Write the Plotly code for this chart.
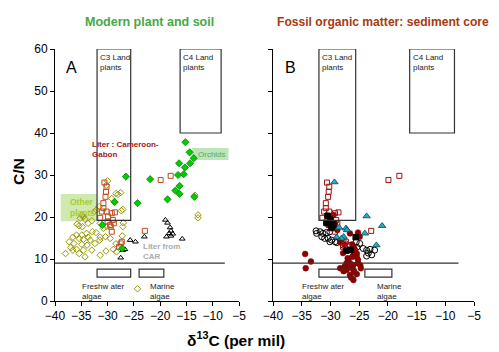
import plotly.graph_objects as go

# ---------------- Panel A data ----------------
olive_x = [-30.0, -30.2, -28.0, -28.4, -27.5, -29.2, -28.6, -32.1, -32.5, -31.6, -27.1, -27.4,
           -34.9, -34.6, -35.2, -34.3, -35.8, -35.4, -34.8, -33.7, -33.0, -31.4, -30.8, -30.2,
           -27.1, -27.0, -32.9, -32.2, -34.0, -34.9, -35.9, -36.6, -35.4, -34.6, -33.7, -33.3,
           -31.4, -30.4, -29.5, -37.3, -36.4, -34.9, -33.9, -32.4, -37.0, -35.9, -36.6, -34.6,
           -35.4, -38.0, -34.3, -31.4, -30.3, -28.3, -28.4, -28.9, -27.2, -31.5, -33.0, -24.3,
           -13.4, -12.8, -12.8]
olive_y = [28.6, 27.6, 25.4, 25.6, 25.8, 24.4, 23.5, 21.7, 21.3, 22.5, 21.8, 21.5,
           20.5, 20.1, 19.7, 19.5, 18.3, 17.9, 17.7, 18.5, 19.1, 18.5, 17.3, 17.7,
           17.7, 18.6, 16.5, 16.3, 16.1, 15.7, 15.7, 15.2, 14.9, 14.7, 15.2, 14.5,
           15.2, 15.3, 14.9, 14.1, 13.7, 13.5, 13.3, 13.7, 12.7, 12.3, 12.1, 12.1,
           11.3, 11.3, 10.5, 10.9, 11.9, 11.7, 13.6, 12.3, 15.5, 14.5, 12.1, 2.9,
           25.2, 20.5, 19.8]

green_x = [-15.2, -14.4, -13.6, -14.3, -16.4, -15.3, -16.6, -15.5, -16.3, -17.1, -16.3, -18.6,
           -21.9, -24.3, -26.5, -28.7, -31.0, -13.5, -27.2]
green_y = [37.8, 35.4, 34.0, 32.8, 32.8, 31.8, 30.0, 30.2, 27.4, 26.3, 25.5, 24.2,
           29.0, 23.3, 29.6, 23.6, 18.1, 24.8, 12.5]

liter_cg_x = [-19.9, -18.0, -22.9, -30.6, -30.2, -30.3, -30.4, -30.8, -30.8, -31.1, -31.4,
              -29.2, -28.6, -30.0, -29.4, -29.2, -27.5, -27.8, -30.2, -29.9, -29.0, -29.5,
              -28.8, -27.3]
liter_cg_y = [28.8, 29.8, 16.7, 28.2, 27.2, 26.0, 24.8, 23.3, 22.1, 21.3, 19.8,
              20.9, 21.1, 18.9, 17.7, 16.5, 13.7, 12.9, 21.3, 20.1, 19.3, 18.1,
              18.5, 14.1]

car_x = [-19.0, -18.6, -18.1, -17.95, -18.3, -17.6, -17.95, -18.8, -15.8, -23.0, -25.7,
         -24.7, -26.7, -27.1, -27.5]
car_y = [19.3, 18.6, 17.5, 16.7, 16.1, 16.0, 15.5, 15.3, 14.8, 15.3, 14.5,
         14.1, 12.3, 12.1, 10.3]

# ---------------- Panel B data ----------------
red_circ_x = [-34.4, -33.4, -34.3, -25.2, -26.6, -24.9, -26.2, -25.7, -25.4, -26.2, -27.2,
              -26.6, -26.0, -25.2, -24.7, -26.6, -28.3, -27.2, -26.0, -25.4, -26.6, -26.0,
              -27.7, -25.2, -26.9, -25.4, -28.8, -29.8, -29.2, -30.1, -29.5, -30.4, -27.6,
              -28.3, -27.8, -26.0, -27.0, -25.8, -26.4, -27.5, -24.8, -25.9]
red_circ_y = [11.2, 9.4, 7.8, 16.3, 16.1, 15.3, 13.5, 12.1, 10.5, 10.5, 9.0,
              9.0, 8.6, 9.0, 7.8, 8.0, 7.8, 7.4, 7.4, 6.4, 6.2, 5.0,
              7.1, 9.8, 9.8, 11.3, 16.9, 17.3, 18.5, 19.7, 20.5, 18.1, 13.5,
              14.1, 11.4, 11.0, 10.2, 6.9, 5.6, 8.3, 8.5, 12.8]

open_circ_x = [-32.5, -31.8, -31.3, -30.7, -30.1, -31.5, -31.0, -30.4, -29.8, -29.2, -30.1,
               -28.9, -27.8, -26.6, -25.4, -24.3, -23.7, -23.1, -22.3, -23.4, -22.8, -23.7,
               -32.4, -24.9, -25.5]
open_circ_y = [16.7, 16.5, 16.1, 16.3, 16.5, 15.3, 14.9, 14.9, 14.5, 14.1, 14.1,
               13.9, 13.3, 13.2, 12.8, 12.5, 12.1, 12.3, 12.1, 11.4, 11.0, 10.7,
               16.1, 13.7, 14.1]

blk_sq_x = [-30.5, -30.0, -30.7, -29.8, -25.6, -26.5, -27.2, -29.5]
blk_sq_y = [20.3, 19.3, 18.6, 17.5, 15.2, 12.2, 12.0, 18.2]

cyan_x = [-29.3, -23.7, -21.0, -24.0, -28.5, -27.3, -27.1, -27.7, -28.1, -28.9, -22.0]
cyan_y = [28.3, 20.2, 17.9, 16.1, 17.5, 17.3, 16.9, 15.3, 14.9, 15.2, 13.3]

tick_vals_x = [-40, -35, -30, -25, -20, -15, -10, -5]
tick_vals_y = [0, 10, 20, 30, 40, 50, 60]

FONT = "Liberation Sans, Arial"
# page body adds an 8px margin; figure is sized to fit the window
OFF = 8
W, H = 499 - OFF, 352 - OFF
def PX(px):
    return (px - OFF) / W
def PY(py):
    return 1 - (py - OFF) / H

fig = go.Figure()

def sc(x, y, xa, ya, symbol, size, color, line_color, lw=1):
    fig.add_trace(go.Scatter(x=x, y=y, xaxis=xa, yaxis=ya, mode="markers",
                             marker=dict(symbol=symbol, size=size, color=color,
                                         line=dict(color=line_color, width=lw)),
                             showlegend=False, hoverinfo="skip"))

# Panel A
sc(olive_x, olive_y, "x", "y", "diamond-open", 5, "#999900", "#999900")
sc(car_x, car_y, "x", "y", "triangle-up-open", 5, "black", "black")
sc(liter_cg_x, liter_cg_y, "x", "y", "square-open", 5, "#c04a20", "#c04a20")
sc(green_x, green_y, "x", "y", "diamond", 5.5, "#00cc00", "#008800", 0.8)
# Panel B
sc(open_circ_x, open_circ_y, "x2", "y2", "circle-open", 6, "black", "black")
sc(red_circ_x, red_circ_y, "x2", "y2", "circle", 5.8, "#8b0000", "#8b0000", 0.5)
sc(liter_cg_x, liter_cg_y, "x2", "y2", "square-open", 5, "#a01010", "#a01010")
sc(blk_sq_x, blk_sq_y, "x2", "y2", "square", 5.5, "black", "black")
sc(cyan_x, cyan_y, "x2", "y2", "triangle-up", 6.5, "#22b0c0", "#004455", 0.8)

shapes = []
annots = []
for xr, yr in (("x", "y"), ("x2", "y2")):
    box = dict(type="rect", xref=xr, yref=yr, line=dict(color="#333333", width=1.2),
               fillcolor="rgba(0,0,0,0)", layer="above")
    shapes.append(dict(box, x0=-32, x1=-25.6, y0=19.2, y1=60))
    shapes.append(dict(box, x0=-16.2, x1=-8.4, y0=40, y1=60))
    shapes.append(dict(box, x0=-32, x1=-25.6, y0=5.7, y1=7.6))
    shapes.append(dict(box, x0=-24, x1=-19.3, y0=5.7, y1=7.6))
    shapes.append(dict(type="line", xref=xr, yref=yr, x0=-40.4, x1=-7.7, y0=9, y1=9,
                       line=dict(color="#333333", width=1.2)))
    small = dict(xref=xr, yref=yr, showarrow=False, xanchor="left", yanchor="top",
                 align="left", font=dict(size=8, color="#222222", family=FONT))
    annots.append(dict(small, x=-31.8, y=59.5, text="C3 Land<br>plants"))
    annots.append(dict(small, x=-16.0, y=59.5, text="C4 Land<br>plants"))
    annots.append(dict(small, x=-35.3, y=4.9, text="Freshw ater<br>algae"))
    annots.append(dict(small, x=-22.3, y=4.9, text="Marine<br>algae"))

# label boxes in panel A
shapes.append(dict(type="rect", xref="x", yref="y", x0=-38.9, x1=-32, y0=19, y1=25.5,
                   line=dict(width=0), fillcolor="rgba(170,215,110,0.55)", layer="below"))
shapes.append(dict(type="rect", xref="x", yref="y", x0=-14, x1=-7, y0=33.6, y1=36.4,
                   line=dict(width=0), fillcolor="rgba(150,210,140,0.6)", layer="below"))

lbl = dict(xref="x", yref="y", showarrow=False, xanchor="left", yanchor="middle", align="left")
annots.append(dict(lbl, x=-33.4, y=36.1, text="<b>Liter : Cameroon-<br>Gabon</b>",
                   font=dict(size=8, color="#a01818", family=FONT)))
annots.append(dict(lbl, x=-37.6, y=22.3, text="<b>Other<br>plants</b>",
                   font=dict(size=8.5, color="#a8cc30", family=FONT)))
annots.append(dict(lbl, x=-13.2, y=35.0, text="Orchids",
                   font=dict(size=8, color="#55aa55", family=FONT)))
annots.append(dict(lbl, x=-23.6, y=11.7, text="<b>Liter from<br>CAR</b>",
                   font=dict(size=8, color="#aaaaaa", family=FONT)))
annots.append(dict(xref="x", yref="y", x=-36.8, y=55.5, text="A", showarrow=False,
                   xanchor="center", yanchor="middle",
                   font=dict(size=16, color="black", family=FONT)))
annots.append(dict(xref="x2", yref="y2", x=-37.0, y=55.5, text="B", showarrow=False,
                   xanchor="center", yanchor="middle",
                   font=dict(size=16, color="black", family=FONT)))
ctr = dict(xref="paper", yref="paper", showarrow=False, xanchor="center", yanchor="middle")
annots.append(dict(ctr, x=PX(149), y=PY(22), text="<b>Modern plant and soil</b>",
                   font=dict(size=12.5, color="#44aa44", family=FONT)))
annots.append(dict(ctr, x=PX(383), y=PY(22), text="<b>Fossil organic matter: sediment core</b>",
                   font=dict(size=12.1, color="#a83a10", family=FONT)))
annots.append(dict(ctr, x=PX(18), y=PY(172), text="<b>C/N</b>", textangle=-90,
                   font=dict(size=15.5, color="black", family=FONT)))
annots.append(dict(xref="paper", yref="paper", showarrow=False, xanchor="center",
                   yanchor="bottom", x=PX(236), y=0.004,
                   text="<b>δ<sup>13</sup>C (per mil)</b>",
                   font=dict(size=15.5, color="black", family=FONT)))

axis_common = dict(showgrid=False, zeroline=False, showline=True, linecolor="black",
                   linewidth=1, ticks="outside", ticklen=4, tickcolor="black", automargin=False,
                   tickfont=dict(size=12, color="black", family=FONT))
ybot = PY(301)
ytop = PY(49)
fig.update_layout(
    width=W, height=H, autosize=False, margin=dict(l=0, r=0, t=0, b=0, pad=0),
    paper_bgcolor="white", plot_bgcolor="white",
    xaxis=dict(axis_common, domain=[PX(55), PX(239)], range=[-40, -5], tickvals=tick_vals_x,
               anchor="y"),
    yaxis=dict(axis_common, domain=[ybot, ytop], range=[0, 60], tickvals=tick_vals_y,
               anchor="x"),
    xaxis2=dict(axis_common, domain=[PX(273), PX(474)], range=[-40, -5], tickvals=tick_vals_x,
                anchor="y2"),
    yaxis2=dict(axis_common, domain=[ybot, ytop], range=[0, 60], tickvals=tick_vals_y,
                showticklabels=False, anchor="x2"),
    shapes=shapes, annotations=annots,
)
fig.write_html("out.html")
